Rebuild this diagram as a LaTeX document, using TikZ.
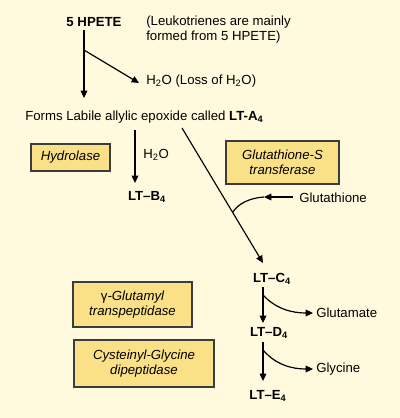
\documentclass[tikz,border=0pt]{standalone}
\usepackage{fontspec}
\setmainfont{Liberation Sans}
\usetikzlibrary{arrows.meta}
\definecolor{bgcream}{RGB}{255,250,222}
\definecolor{boxyellow}{RGB}{250,224,135}
\definecolor{boxline}{RGB}{60,60,60}
\newcommand{\lowsub}[1]{\textsubscript{#1}}
\begin{document}
\begin{tikzpicture}[x=0.75pt,y=-0.75pt,
  every node/.style={inner sep=0pt,font=\fontsize{9.9}{11.6}\selectfont},
  lbl/.style={},
  blbl/.style={font=\fontsize{9.9}{11.6}\selectfont\bfseries},
  enzyme/.style={draw=boxline,fill=boxyellow,line width=0.9pt,align=center,
    font=\fontsize{9.9}{11.6}\selectfont\itshape},
  conn/.style={line width=0.9pt,draw=black},
  arr/.style={conn,-{Triangle[length=5.5pt,width=5pt]}}
]
\fill[bgcream] (0,0) rectangle (400,418);
\useasboundingbox (0,0) rectangle (400,418);

% texts
\node[blbl] (hpete) at (94,22) {5 HPETE};
\node[lbl,anchor=west,align=left] (note) at (146,29.5) {(Leukotrienes are mainly\\formed from 5 HPETE)};
\node[lbl,anchor=west] (water) at (146,81) {H\lowsub{2}O (Loss of H\lowsub{2}O)};
\node[lbl,anchor=west] (lta) at (25,117) {Forms Labile allylic epoxide called \textbf{LT-A\lowsub{4}}};
\node[lbl,anchor=west] (water2) at (143,155) {H\lowsub{2}O};
\node[blbl] (ltb) at (147,197) {LT--B\lowsub{4}};
\node[lbl,anchor=west] (glut) at (299,198) {Glutathione};
\node[blbl] (ltc) at (272,279) {LT--C\lowsub{4}};
\node[blbl] (ltd) at (269,333) {LT--D\lowsub{4}};
\node[blbl] (lte) at (268,396) {LT--E\lowsub{4}};
\node[lbl,anchor=west] (glutamate) at (316,313) {Glutamate};
\node[lbl,anchor=west] (glycine) at (316,369) {Glycine};

% enzymes
\node[enzyme,minimum width=59.25pt,minimum height=20.25pt] (hydro) at (70.5,157.5) {Hydrolase};
\node[enzyme,minimum width=84.75pt,minimum height=32.25pt] (gst) at (282.5,162.5) {Glutathione-S\\transferase};
\node[enzyme,minimum width=89.25pt,minimum height=33.75pt] (ggt) at (132.5,304.5) {{\upshape γ}-Glutamyl\\transpeptidase};
\node[enzyme,minimum width=105pt,minimum height=35.25pt] (cgd) at (144,363.5) {Cysteinyl-Glycine\\dipeptidase};

% coordinates
\coordinate (a1) at (84,30);
\coordinate (a2) at (84,98);
\coordinate (b1) at (84,50);
\coordinate (b2) at (139,83);
\coordinate (c1) at (135,130);
\coordinate (c2) at (135,183);
\coordinate (d1) at (182,128);
\coordinate (d2) at (263,263);
\coordinate (g1) at (293,197);
\coordinate (g2) at (264,197);
\coordinate (gj) at (233,212);
\coordinate (e1) at (263,287);
\coordinate (e2) at (263,323);
\coordinate (e3) at (263,295);
\coordinate (e4) at (313,313);
\coordinate (f1) at (263,342);
\coordinate (f2) at (263,381);
\coordinate (f3) at (263,350);
\coordinate (f4) at (313,369);

\draw[arr] (a1) -- (a2);
\draw[arr] (b1) -- (b2);
\draw[arr] (c1) -- (c2);
\draw[arr] (d1) -- (d2);
\draw[arr] (g1) -- (g2);
\draw[conn] (g2) .. controls (249,198) and (238,204) .. (gj);
\draw[arr] (e1) -- (e2);
\draw[arr] (e3) .. controls (276,309) and (292,313) .. (e4);
\draw[arr] (f1) -- (f2);
\draw[arr] (f3) .. controls (276,365) and (292,369) .. (f4);
\end{tikzpicture}
\end{document}
